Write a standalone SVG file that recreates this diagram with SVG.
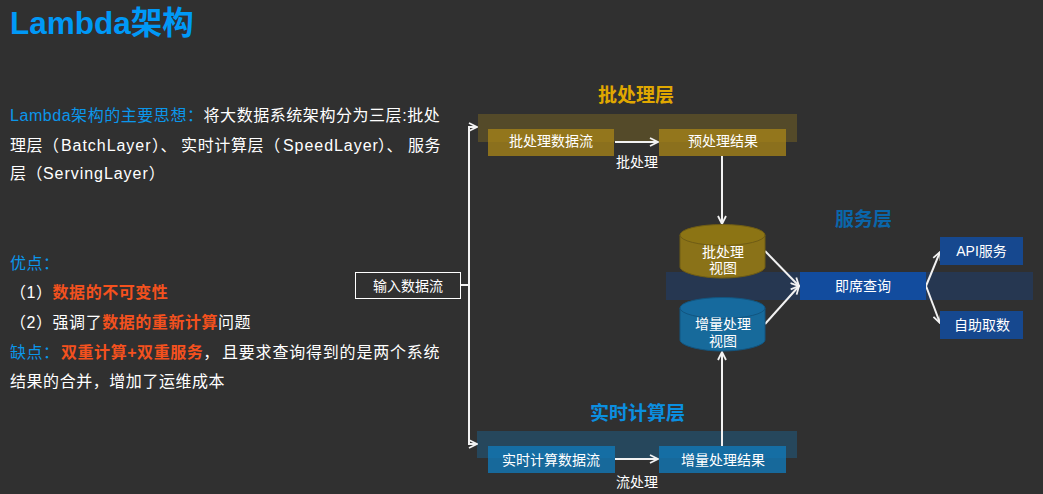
<svg xmlns="http://www.w3.org/2000/svg" width="1043" height="494" viewBox="0 0 1043 494">
<style>
text{font-family:"Liberation Sans","Noto Sans CJK SC",sans-serif;fill:#fff}
.b{font-size:16px;letter-spacing:.55px}
.s{font-size:14px;text-anchor:middle}
.c{fill:#0b96ea}
.r{fill:#f4511e;font-weight:bold}
.h{font-size:19px;font-weight:bold;text-anchor:middle}
.l{fill:none;stroke:#f2f2f2;stroke-width:2}
</style>
<defs>
<marker id="a" viewBox="0 0 10 10" refX="9" refY="5" markerWidth="10" markerHeight="10" markerUnits="userSpaceOnUse" orient="auto"><path d="M1 1L9 5L1 9" fill="none" stroke="#f2f2f2" stroke-width="1.8"/></marker>
</defs>
<rect width="1043" height="494" fill="#303030"/>
<g id="title"><text x="10" y="34" font-size="31.500" font-weight="bold" style="fill:#0099f7">Lambda架构</text></g>
<g id="intro">
<text class="b" x="10" y="121"><tspan class="c">Lambda架构的主要思想：</tspan>将大数据系统架构分为三层:批处</text>
<text class="b" x="10" y="151">理层（<tspan x="61" letter-spacing=".95">BatchLayer</tspan><tspan x="152">）、</tspan><tspan x="181" letter-spacing=".65">实时计算层（</tspan><tspan x="283" letter-spacing=".95">SpeedLayer</tspan><tspan x="378">）、</tspan><tspan x="408">服务</tspan></text>
<text class="b" x="10" y="179">层（<tspan x="43" letter-spacing=".95">ServingLayer</tspan>）</text>
</g>
<g id="pros">
<text class="b c" x="10" y="269">优点：</text>
<text class="b" x="10" y="298">（1）<tspan class="r">数据的不可变性</tspan></text>
<text class="b" x="10" y="328">（2）强调了<tspan class="r">数据的重新计算</tspan>问题</text>
<text class="b" x="10" y="358"><tspan class="c">缺点：</tspan><tspan class="r" x="61">双重计算+双重服务</tspan>，<tspan x="222" letter-spacing=".8">且要求查询得到的是两个系统</tspan></text>
<text class="b" x="10" y="387">结果的合并，增加了运维成本</text>
</g>
<g id="bands">
<rect x="478" y="114" width="319" height="28" fill="#544a29"/>
<rect x="666" y="272" width="367" height="28" fill="#263751"/>
<rect x="477" y="431" width="320" height="27" fill="#26475c"/>
</g>
<g id="layer-labels">
<text class="h" x="636" y="102" style="fill:#e0a800">批处理层</text>
<text class="h" x="863.500" y="226" style="fill:#0a66aa">服务层</text>
<text class="h" x="637.500" y="420" style="fill:#0b8fe0">实时计算层</text>
</g>
<g id="connectors">
<path class="l" d="M460 285H469V127H477" marker-end="url(#a)"/>
<path class="l" d="M469 285V444H477" marker-end="url(#a)"/>
<path class="l" d="M615 142H658" marker-end="url(#a)"/>
<path class="l" d="M722 156V224" marker-end="url(#a)"/>
<path class="l" d="M615 459H658" marker-end="url(#a)"/>
<path class="l" d="M722 446V352" marker-end="url(#a)"/>
<path class="l" d="M765 251L799 286" marker-end="url(#a)"/>
<path class="l" d="M765 324L799 286" marker-end="url(#a)"/>
<path class="l" d="M926 286L940 252" marker-end="url(#a)"/>
<path class="l" d="M926 286L940 323" marker-end="url(#a)"/>
<text class="s" x="637" y="167">批处理</text>
<text class="s" x="637" y="487">流处理</text>
</g>
<g id="input"><rect x="355.500" y="272.500" width="105" height="26" fill="#303030" stroke="#fff"/><text class="s" x="408" y="291">输入数据流</text></g>
<g id="batch-flow"><rect x="488" y="129" width="126" height="27" fill="#a28119" fill-opacity=".8"/><text class="s" x="551" y="146">批处理数据流</text></g>
<g id="batch-result"><rect x="659" y="129" width="127" height="27" fill="#a28119" fill-opacity=".8"/><text class="s" x="723" y="146">预处理结果</text></g>
<g id="speed-flow"><rect x="488" y="446" width="127" height="27" fill="#1178b6" fill-opacity=".8"/><text class="s" x="551" y="465">实时计算数据流</text></g>
<g id="speed-result"><rect x="659" y="446" width="127" height="27" fill="#1178b6" fill-opacity=".8"/><text class="s" x="723" y="465">增量处理结果</text></g>
<g id="batch-view">
<path d="M680 235V267C680 272 698 278 722.500 278S765 272 765 267V235Z" fill="#8a7218" stroke="#6f5c14"/>
<ellipse cx="722.500" cy="235" rx="42.500" ry="10.500" fill="#8c7414" stroke="#6f5c14"/>
<text class="s" x="723" y="257">批处理</text><text class="s" x="723" y="273">视图</text>
</g>
<g id="speed-view">
<path d="M680 308V340C680 345 698 351 722.500 351S765 345 765 340V308Z" fill="#176a9b" stroke="#125580"/>
<ellipse cx="722.500" cy="308" rx="42.500" ry="10.500" fill="#166a9e" stroke="#125580"/>
<text class="s" x="723" y="329">增量处理</text><text class="s" x="723" y="346">视图</text>
</g>
<g id="query"><rect x="800" y="272" width="126" height="28" fill="#124c9e"/><text class="s" x="863" y="291">即席查询</text></g>
<g id="api"><rect x="940" y="237" width="83" height="28" fill="#16488f"/><text class="s" x="981.500" y="256">API服务</text></g>
<g id="self"><rect x="940" y="311" width="83" height="28" fill="#16488f"/><text class="s" x="982" y="330">自助取数</text></g>
</svg>
